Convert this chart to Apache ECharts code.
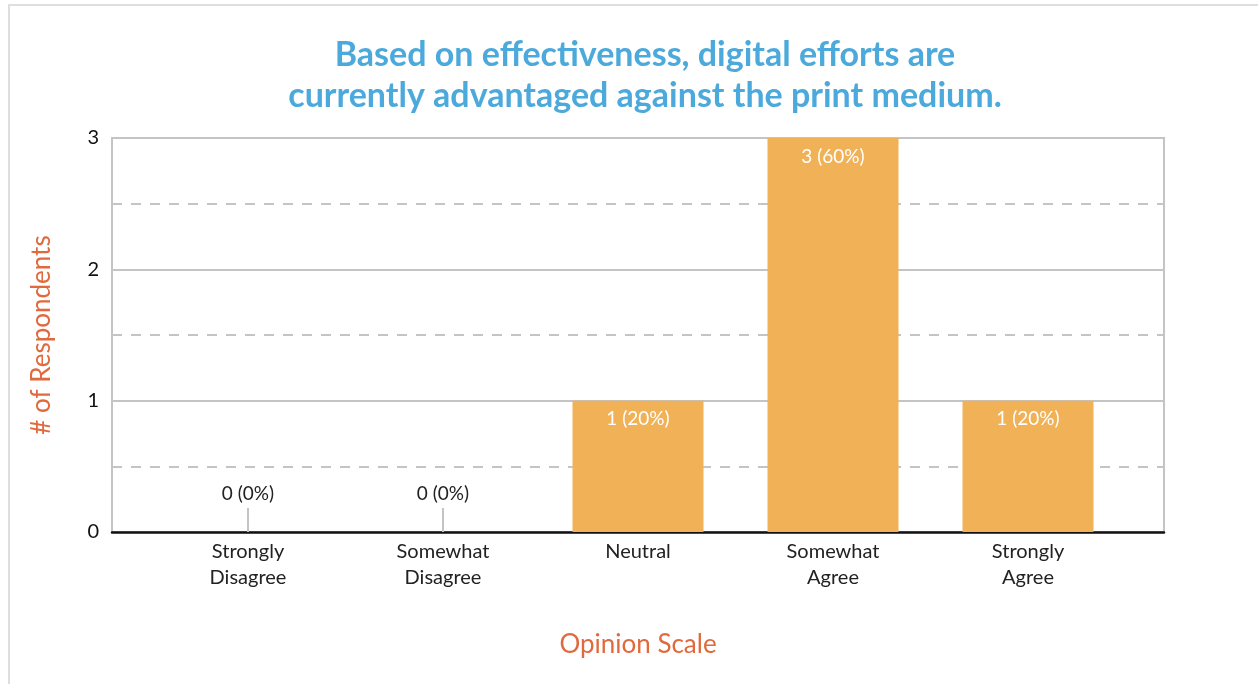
<!DOCTYPE html>
<html>
<head>
<meta charset="utf-8">
<script src="https://cdn.jsdelivr.net/npm/echarts@6/dist/echarts.min.js"></script>
<style>
  html, body { margin: 0; padding: 0; background: #fff; }
  #frame { position: absolute; left: 8px; top: 4px; width: 1260px; height: 700px; border: 2px solid #dedede; box-sizing: border-box; }
  #chart { position: absolute; left: 0; top: 0; width: 1258px; height: 684px; }
</style>
</head>
<body>
<div id="frame"></div>
<div id="chart"></div>
<script>
const titleLines = ['Based on effectiveness, digital efforts are', 'currently advantaged against the print medium.'];
const categories = ['Strongly\nDisagree', 'Somewhat\nDisagree', 'Neutral', 'Somewhat\nAgree', 'Strongly\nAgree'];
const counts = [0, 0, 1, 3, 1];
const percents = [0, 0, 20, 60, 20];
const yTicks = [0, 1, 2, 3];

const FONT = 'Lato, "Open Sans", sans-serif';
const chart = echarts.init(document.getElementById('chart'), null, { renderer: 'canvas' });

const barData = counts.map((v, i) => ({
  value: v,
  label: v > 0
    ? { position: 'insideTop', distance: 9, color: '#ffffff' }
    : { position: 'top', distance: 29, color: '#222222' }
}));

chart.setOption({
  backgroundColor: 'transparent',
  animation: false,
  title: {
    text: titleLines.join('\n'),
    left: 640,
    top: 30,
    textAlign: 'center',
    textStyle: { color: '#4ba9db', fontFamily: FONT, fontWeight: 'bold', fontSize: 34, lineHeight: 41, align: 'center' }
  },
  grid: [
    { left: 112, top: 138, width: 1052, height: 394, show: true, borderColor: '#c4c4c4', borderWidth: 2, backgroundColor: 'transparent' },
    { left: 150.5, top: 138, width: 975, height: 394 }
  ],
  xAxis: [
    {
      type: 'value', gridIndex: 0, min: 0, max: 1,
      axisLine: { show: true, onZero: false, lineStyle: { color: '#111', width: 2.5 } },
      axisTick: { show: false }, axisLabel: { show: false }, splitLine: { show: false },
      name: 'Opinion Scale', nameLocation: 'middle', nameGap: 100,
      nameTextStyle: { color: '#e06a3e', fontFamily: FONT, fontSize: 26 }
    },
    {
      type: 'category', gridIndex: 1, data: categories,
      axisLine: { show: false },
      axisTick: { show: true, inside: true, length: 24, alignWithLabel: true, lineStyle: { color: '#c4c4c4', width: 2 } },
      axisLabel: { color: '#222', fontFamily: FONT, fontSize: 20, lineHeight: 26, margin: 7 },
      splitLine: { show: false }
    }
  ],
  yAxis: [
    {
      type: 'value', gridIndex: 0, min: 0, max: 3, interval: 1,
      axisLine: { show: false }, axisTick: { show: false },
      axisLabel: { color: '#111', fontFamily: FONT, fontSize: 20, margin: 13, verticalAlign: 'middle', lineHeight: 24 },
      splitLine: { show: true, lineStyle: { color: '#c4c4c4', width: 2 } },
      minorTick: { show: false, splitNumber: 2 },
      minorSplitLine: { show: true, lineStyle: { color: '#c4c4c4', width: 2, type: [10, 9] } },
      name: '# of Respondents', nameLocation: 'middle', nameGap: 57,
      nameTextStyle: { color: '#e06a3e', fontFamily: FONT, fontSize: 26, lineHeight: 26 }
    },
    {
      type: 'value', gridIndex: 1, min: 0, max: 3, interval: 1,
      show: false, splitLine: { show: false }
    }
  ],
  series: [
    {
      type: 'bar', xAxisIndex: 1, yAxisIndex: 1,
      data: barData,
      barWidth: 131,
      itemStyle: { color: '#f0b157' },
      label: {
        show: true, fontFamily: FONT, fontSize: 19,
        formatter: p => counts[p.dataIndex] + ' (' + percents[p.dataIndex] + '%)'
      },
      z: 3
    }
  ]
});
</script>
</body>
</html>
